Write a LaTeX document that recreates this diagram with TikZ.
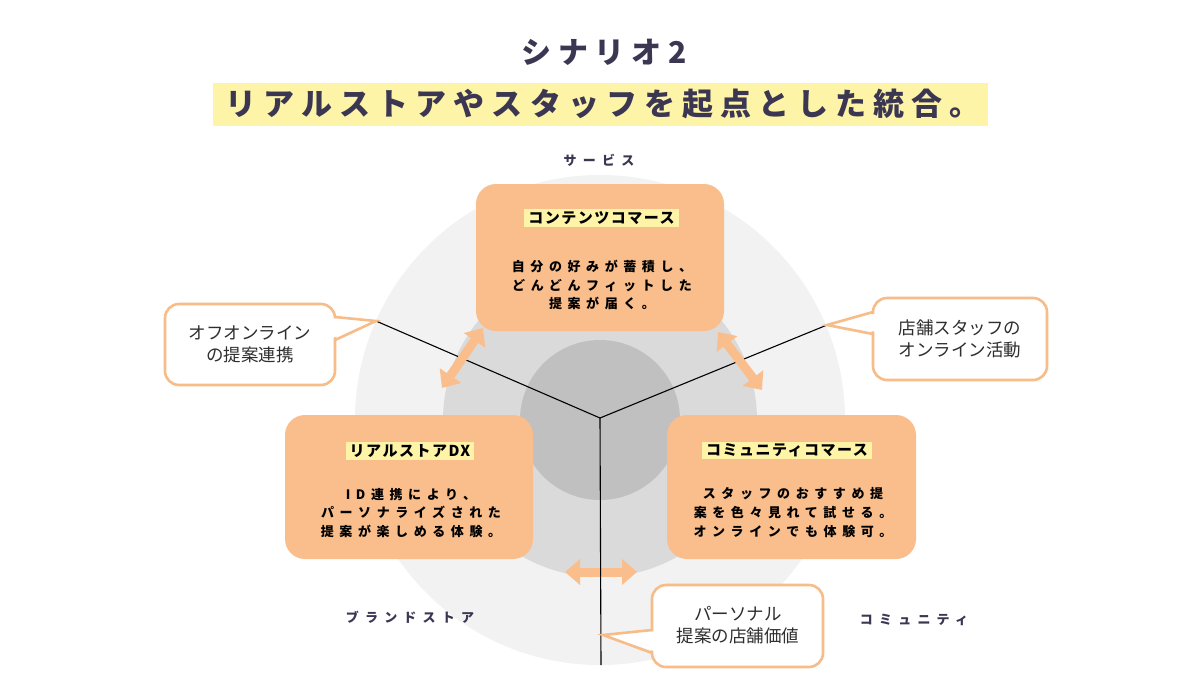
\documentclass[tikz,border=0pt]{standalone}
\usepackage{fontspec}
\usetikzlibrary{arrows.meta}
\newfontfamily\jp{Noto Sans CJK JP}
\definecolor{peach}{HTML}{F9BE8C}
\definecolor{cborder}{HTML}{F7BC88}
\definecolor{hl}{HTML}{FEF4A8}
\definecolor{titlec}{HTML}{3B3752}
\definecolor{cone}{HTML}{F2F2F2}
\definecolor{ctwo}{HTML}{DADADA}
\definecolor{cthree}{HTML}{C0C0C0}
\definecolor{txt}{HTML}{2E2E2E}
\newcommand\bodyfnt{\jp\bfseries\fontsize{13}{18.8}\selectfont\addfontfeature{LetterSpace=43}}
\newcommand\headfnt{\jp\bfseries\fontsize{15}{18}\selectfont\addfontfeature{LetterSpace=10}}
\newcommand\labfnt{\jp\bfseries\fontsize{13}{16}\selectfont\addfontfeature{LetterSpace=48}}
\newcommand\callfnt{\jp\fontsize{17.5}{22}\selectfont}
\tikzset{
  peachbox/.style={fill=peach, rounded corners=20pt, inner sep=0pt},
  headnode/.style={fill=hl, inner xsep=4pt, inner ysep=2pt, font=\headfnt, text=black},
  bodynode/.style={align=center, font=\bodyfnt, text=black, inner sep=0pt},
  labnode/.style={font=\labfnt, text=titlec, inner sep=0pt},
  callbox/.style={draw=cborder, line width=2.6pt, fill=white, rounded corners=14pt, inner sep=0pt},
  calltext/.style={align=center, font=\callfnt, text=txt, inner sep=0pt},
  dblarrow/.style={draw=peach, line width=9pt, {Triangle[width=25pt,length=15pt]}-{Triangle[width=25pt,length=15pt]}},
  divline/.style={draw=black, line width=1.1pt},
  ptrfill/.style={fill=white},
  ptrdraw/.style={draw=cborder, line width=2.6pt, line join=miter}
}
\begin{document}
\begin{tikzpicture}[x=1pt,y=-1pt]
\useasboundingbox[fill=white] (0,0) rectangle (1200,678);
% title
\node[font=\jp\bfseries\fontsize{30}{34}\selectfont\addfontfeature{LetterSpace=22}, text=titlec, inner sep=0pt] (title) at (604,52) {シナリオ2};
\fill[hl] (213,83) rectangle (988,126);
\node[font=\jp\bfseries\fontsize{31}{34}\selectfont\addfontfeature{LetterSpace=23}, text=titlec, inner sep=0pt] (subtitle) at (603,104) {リアルストアやスタッフを起点とした統合。};
% circles
\fill[cone] (600,420) circle[radius=245pt];
\fill[ctwo] (600,420) circle[radius=157pt];
\fill[cthree] (600,420) circle[radius=80pt];
% axis labels
\node[labnode] (lserv) at (599,160) {サービス};
\node[labnode] (lbrand) at (410,617) {ブランドストア};
\node[labnode] (lcomm) at (914,620) {コミュニティ};
% coordinates
\coordinate (ctr) at (600,418);
\coordinate (pL) at (376,321);
\coordinate (pR) at (827,325);
\coordinate (pB) at (601,665);
\coordinate (tB) at (603,635);
% bottom arrow (under the vertical line)
\coordinate (a3s) at (565,572);
\coordinate (a3e) at (637,572);
\draw[dblarrow] (a3s) -- (a3e);
% division lines
\draw[divline] (ctr) -- (pL);
\draw[divline] (ctr) -- (pR);
\draw[divline] (ctr) -- (pB);
% boxes
\node[peachbox, minimum width=248pt, minimum height=147pt] (top) at (600,257.5) {};
\node[headnode] (toph) at (601.5,218) {コンテンツコマース};
\node[bodynode] (topb) at (602,285) {自分の好みが蓄積し、\\どんどんフィットした\\提案が届く。};
\node[peachbox, minimum width=248pt, minimum height=144pt] (left) at (409,487) {};
\node[headnode] (lefth) at (410,451) {リアルストアDX};
\node[bodynode] (leftb) at (411,513) {ID連携により、\\パーソナライズされた\\提案が楽しめる体験。};
\node[peachbox, minimum width=249pt, minimum height=144pt] (right) at (791.5,487) {};
\node[headnode] (righth) at (787,450.5) {コミュニティコマース};
\node[bodynode] (rightb) at (793,512.5) {スタッフのおすすめ提\\案を色々見れて試せる。\\オンラインでも体験可。};
% diagonal arrows
\coordinate (a1s) at (483,328);
\coordinate (a1e) at (442,388);
\draw[dblarrow] (a1s) -- (a1e);
\coordinate (a2s) at (718,332);
\coordinate (a2e) at (762,390);
\draw[dblarrow] (a2s) -- (a2e);
% callouts
\node[callbox, minimum width=170pt, minimum height=81pt] (cl) at (250,344.5) {};
\fill[ptrfill] (330,318) -- (pL) -- (330,339) -- cycle;
\draw[ptrdraw] (335,317) -- (pL) -- (335,340);
\node[calltext] (clt) at (250,344) {オフオンライン\\の提案連携};
\node[callbox, minimum width=174pt, minimum height=82pt] (cr) at (960,339) {};
\fill[ptrfill] (878,313) -- (pR) -- (878,332) -- cycle;
\draw[ptrdraw] (873,312) -- (pR) -- (873,334);
\node[calltext] (crt) at (960,339) {店舗スタッフの\\オンライン活動};
\node[callbox, minimum width=171pt, minimum height=82pt] (cb) at (737.5,626) {};
\fill[ptrfill] (657,631) -- (tB) -- (657,652) -- cycle;
\draw[ptrdraw] (652,630) -- (tB) -- (652,653);
\node[calltext] (cbt) at (738,625) {パーソナル\\提案の店舗価値};
\end{tikzpicture}
\end{document}
